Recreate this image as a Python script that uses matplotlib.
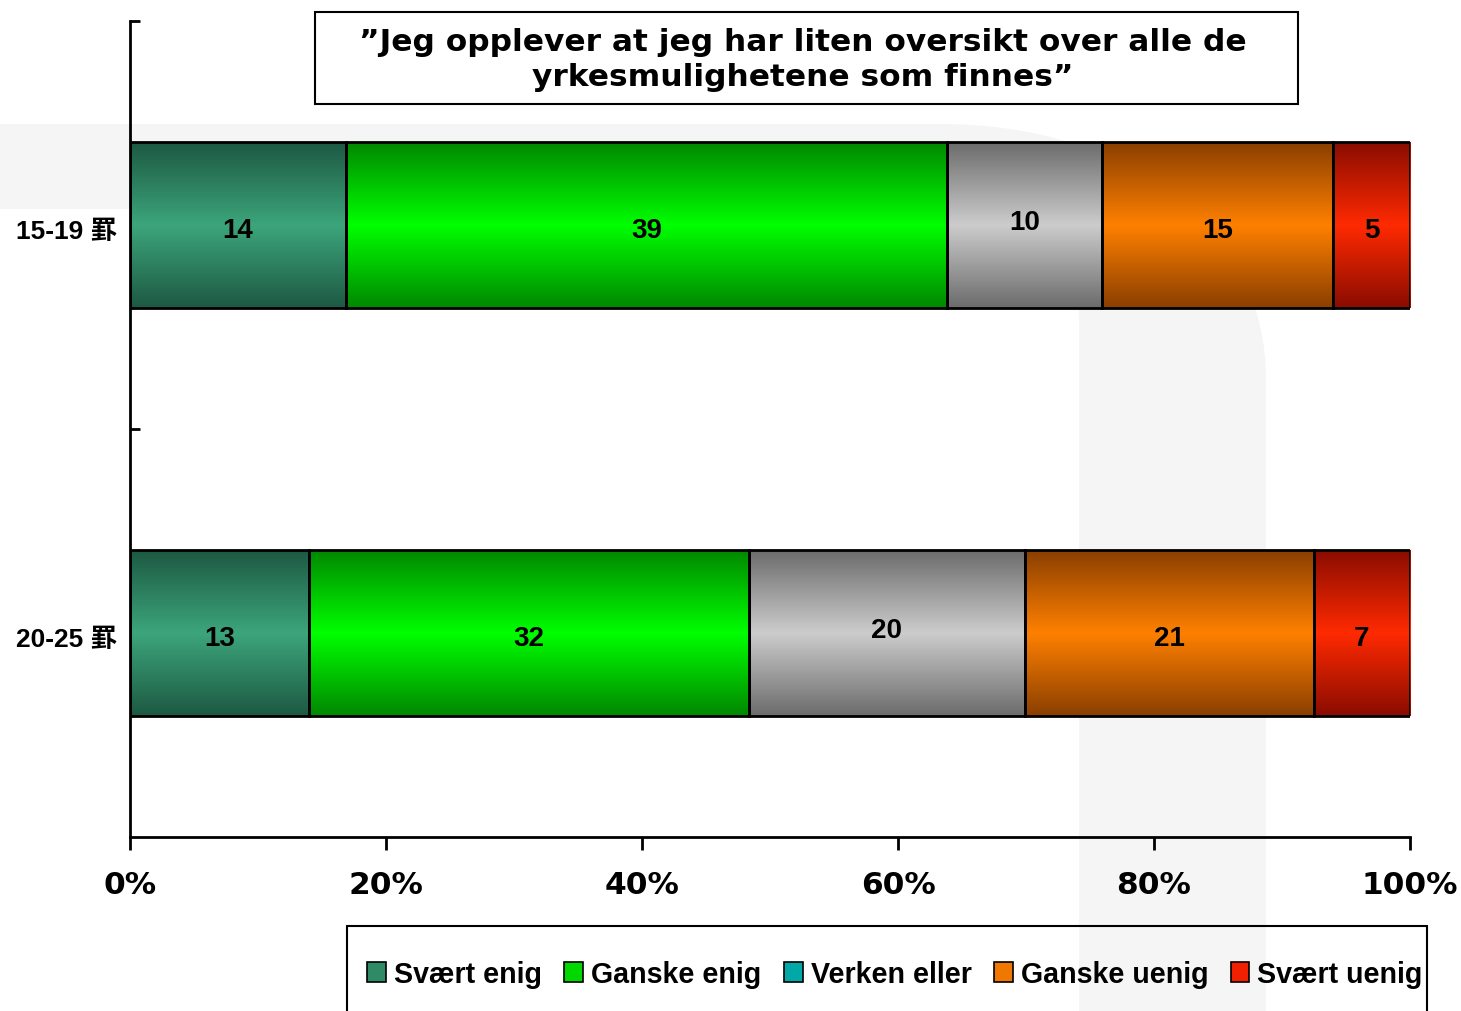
import numpy as np
import matplotlib as mpl
mpl.use('Agg')
import matplotlib.pyplot as plt
from matplotlib.colors import LinearSegmentedColormap
from matplotlib.patches import Patch, Rectangle, PathPatch
from matplotlib.path import Path

# data
grupper = ["20-25 罫", "15-19 罫"]
kategorier = ["Svært enig", "Ganske enig", "Verken eller", "Ganske uenig", "Svært uenig"]
verdier = {
    "15-19 罫": [14, 39, 10, 15, 5],
    "20-25 罫": [13, 32, 20, 21, 7],
}
tittel = "\u201dJeg opplever at jeg har liten oversikt over alle de\nyrkesmulighetene som finnes\u201d"

# (mork, lys) for gradient i stolpene
farger = [("#1d5943", "#3ca57b"), ("#008800", "#00ff00"), ("#6c6c6c", "#cccccc"),
          ("#8a3f00", "#ff8000"), ("#8a0c00", "#ff2a00")]
legendfarger = ["#2f8a66", "#00d800", "#00a8a8", "#f07800", "#f02000"]

W, H = 1461, 1012
fig = plt.figure(figsize=(W / 100, H / 100), dpi=100)

def px(x, y):
    return (x / W, 1 - y / H)

# svak bakgrunnsfigur
verts = [px(0, 125), px(940, 125), px(1130, 125), px(1266, 230), px(1266, 380),
         px(1266, 1012), px(1079, 1012), px(1079, 320), px(1079, 250), px(1040, 210),
         px(980, 210), px(0, 210), px(0, 125)]
codes = [Path.MOVETO, Path.LINETO, Path.CURVE4, Path.CURVE4, Path.CURVE4,
         Path.LINETO, Path.LINETO, Path.LINETO, Path.CURVE4, Path.CURVE4,
         Path.CURVE4, Path.LINETO, Path.CLOSEPOLY]
fig.patches.append(PathPatch(Path(verts, codes), transform=fig.transFigure,
                             facecolor="#f5f5f5", edgecolor="none", zorder=-10))

ax = fig.add_axes([130 / W, 1 - 838 / H, 1280 / W, 816 / H])
ax.patch.set_alpha(0)

y = np.arange(len(grupper))
hoyde = 0.405
for i, g in enumerate(grupper):
    vals = np.array(verdier[g], dtype=float)
    andel = vals / vals.sum()
    venstre = np.concatenate([[0], np.cumsum(andel)[:-1]])
    for j in range(len(vals)):
        mork, lys = farger[j]
        cmap = LinearSegmentedColormap.from_list("g", [mork, lys, mork])
        grad = np.linspace(0, 1, 200).reshape(-1, 1)
        ax.imshow(grad, cmap=cmap, aspect="auto", interpolation="bilinear",
                  extent=[venstre[j], venstre[j] + andel[j], y[i] - hoyde / 2, y[i] + hoyde / 2],
                  zorder=1)
        ax.barh(y[i], andel[j], left=venstre[j], height=hoyde, facecolor="none",
                edgecolor="black", linewidth=2, zorder=2)
        dy = 3 if j == 2 else -5
        ax.annotate(str(int(vals[j])), (venstre[j] + andel[j] / 2, y[i]),
                    xytext=(0, dy), textcoords="offset pixels",
                    ha="center", va="center", fontsize=20, fontweight="bold",
                    family="Liberation Sans", zorder=3)

ax.set_xlim(0, 1)
ax.set_ylim(-0.5, 1.5)
for s in ["top", "right"]:
    ax.spines[s].set_visible(False)
for s in ["left", "bottom"]:
    ax.spines[s].set_linewidth(2)

ax.set_xticks(np.linspace(0, 1, 6))
ax.set_xticklabels(["0%", "20%", "40%", "60%", "80%", "100%"])
ax.tick_params(axis="x", direction="out", length=9, width=2, pad=15, labelsize=22.5)
for t in ax.get_xticklabels():
    t.set_fontweight("bold")
    t.set_family("DejaVu Sans")

ax.set_yticks([0.5, 1.5])
ax.set_yticks(y, minor=True)
ax.set_yticklabels([])
ax.set_yticklabels(grupper, minor=True)
ax.tick_params(axis="y", which="major", direction="in", length=7, width=2)
ax.tick_params(axis="y", which="minor", length=0, pad=9, labelsize=19)
for t in ax.yaxis.get_minorticklabels():
    t.set_fontweight("bold")
    t.set_family(["Liberation Sans", "Noto Sans CJK JP"])
    t.set_va("center")
    t.set_transform(t.get_transform() + mpl.transforms.ScaledTranslation(0, -6 / 100, fig.dpi_scale_trans))

# tittelboks
fig.patches.append(Rectangle(px(315, 105), 983 / W, 92 / H, transform=fig.transFigure,
                             facecolor="white", edgecolor="black", linewidth=1.5, zorder=5))
fig.text(*px(803, 60), tittel, ha="center", va="center", fontsize=22.5, fontweight="bold",
         family="DejaVu Sans", linespacing=1.22, zorder=6)

# legende med egen ramme
fig.patches.append(Rectangle(px(347, 1030), 1080 / W, 103 / H, transform=fig.transFigure,
                             facecolor="none", edgecolor="black", linewidth=1.5, zorder=5))
handles = [Patch(facecolor=c, edgecolor="black", linewidth=1.2) for c in legendfarger]
leg = fig.legend(handles, kategorier, loc="center left", bbox_to_anchor=px(367, 975),
                 ncol=5, frameon=False, borderpad=0, borderaxespad=0,
                 handlelength=0.66, handleheight=0.66, handletextpad=0.28, columnspacing=0.78,
                 prop={"family": "Liberation Sans", "weight": "bold", "size": 20.6})

fig.savefig("out.png", dpi=100)
